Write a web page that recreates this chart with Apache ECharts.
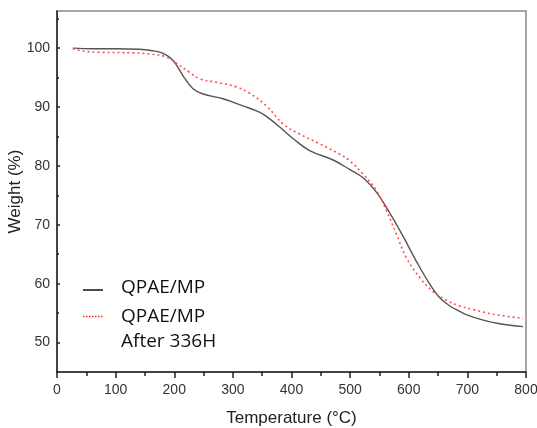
<!DOCTYPE html>
<html>
<head>
<meta charset="utf-8">
<script src="https://cdn.jsdelivr.net/npm/echarts@6/dist/echarts.min.js"></script>
<style>
html,body{margin:0;padding:0;background:#fff;}
#chart{width:537px;height:428px;}
</style>
</head>
<body>
<div id="chart"></div>
<script>
// Data
var xTicks = [0, 100, 200, 300, 400, 500, 600, 700, 800];
var yMajorTicks = [50, 60, 70, 80, 90, 100];
var yMinorTicks = [55, 65, 75, 85, 95, 105];

var qpaeTemp   = [27, 60, 100, 140, 160, 181, 198, 215, 232, 249, 283, 317, 346, 360, 380, 403, 431, 471, 499, 522, 545, 567, 590, 613, 636, 653, 670, 687, 699, 727, 755, 795];
var qpaeWeight = [100, 99.9, 99.9, 99.8, 99.6, 99.1, 97.9, 95.3, 93.1, 92.2, 91.4, 90.2, 89.1, 88.2, 86.6, 84.6, 82.6, 81.0, 79.4, 78.0, 75.5, 72.1, 68.1, 63.8, 59.9, 57.6, 56.2, 55.3, 54.7, 53.8, 53.2, 52.7];

var agedTemp   = [27, 44, 72, 130, 158, 187, 204, 226, 243, 272, 306, 329, 357, 386, 414, 449, 482, 499, 522, 545, 562, 579, 596, 619, 641, 664, 687, 710, 744, 795];
var agedWeight = [99.9, 99.5, 99.3, 99.2, 99.0, 98.5, 97.4, 95.9, 94.8, 94.2, 93.4, 92.3, 90.2, 87.1, 85.4, 83.7, 82.0, 80.9, 78.6, 75.8, 72.4, 68.4, 64.4, 61.0, 58.7, 57.2, 56.2, 55.6, 54.8, 54.1];

function pairs(xs, ys) {
  var out = [];
  for (var i = 0; i < xs.length; i++) out.push([xs[i], ys[i]]);
  return out;
}

var chart = echarts.init(document.getElementById('chart'), null, {renderer: 'canvas'});
var tickFont = {fontFamily: 'Liberation Sans, Arial, sans-serif', fontSize: 14, color: '#333'};
var legendFont = '19px "Open Sans", "Noto Sans", sans-serif';

chart.setOption({
  animation: false,
  backgroundColor: '#fff',
  grid: {
    left: 57, right: 11, top: 11, bottom: 56,
    containLabel: false, outerBoundsMode: 'none',
    show: true, borderColor: '#888', borderWidth: 1.5, backgroundColor: 'transparent'
  },
  xAxis: {
    type: 'value', min: 0, max: 800, interval: 100,
    name: 'Temperature (\u00B0C)', nameLocation: 'middle', nameGap: 38, nameMoveOverlap: false,
    nameTextStyle: {fontFamily: 'Liberation Sans, Arial, sans-serif', fontSize: 17, color: '#222'},
    axisLine: {show: true, lineStyle: {color: '#222', width: 1.5}},
    axisTick: {show: true, length: 6, lineStyle: {color: '#222', width: 1.5}},
    minorTick: {show: true, splitNumber: 2, length: 4, lineStyle: {color: '#222', width: 1.5}},
    axisLabel: Object.assign({margin: 11}, tickFont),
    splitLine: {show: false}
  },
  yAxis: [{
    type: 'value', min: 45, max: 106.3,
    name: 'Weight (%)', nameLocation: 'middle', nameGap: 33, nameMoveOverlap: false,
    nameTextStyle: {fontFamily: 'Liberation Sans, Arial, sans-serif', fontSize: 17, color: '#222'},
    axisLine: {show: true, lineStyle: {color: '#222', width: 1.5}},
    axisTick: {show: true, inside: true, length: 3, customValues: yMajorTicks, lineStyle: {color: '#222', width: 1.5}},
    axisLabel: Object.assign({margin: 7, customValues: yMajorTicks}, tickFont),
    splitLine: {show: false}
  }, {
    type: 'value', min: 45, max: 106.3, position: 'left',
    axisLine: {show: false},
    axisTick: {show: true, inside: true, length: 2, customValues: yMinorTicks, lineStyle: {color: '#222', width: 1.5}},
    axisLabel: {show: false},
    splitLine: {show: false}
  }],
  series: [{
    name: 'QPAE/MP', type: 'line', yAxisIndex: 0,
    data: pairs(qpaeTemp, qpaeWeight),
    showSymbol: false, smooth: 0.4,
    lineStyle: {color: '#555', width: 1.4}
  }, {
    name: 'QPAE/MP After 336H', type: 'line', yAxisIndex: 0,
    data: pairs(agedTemp, agedWeight),
    showSymbol: false, smooth: 0.4,
    lineStyle: {color: '#ff4a4a', width: 1.6, type: [2, 3]}
  }],
  graphic: [
    {type: 'line', shape: {x1: 83, y1: 290, x2: 103, y2: 290}, style: {stroke: '#111', lineWidth: 1.5}},
    {type: 'line', shape: {x1: 83, y1: 316.5, x2: 103, y2: 316.5}, style: {stroke: '#ff2020', lineWidth: 1.5, lineDash: [1.5, 1.5]}},
    {type: 'text', left: 121, top: 278, style: {text: 'QPAE/MP', font: legendFont, fill: '#111'}},
    {type: 'text', left: 121, top: 304, style: {text: 'QPAE/MP\nAfter 336H', font: legendFont, fill: '#111', lineHeight: 25}}
  ]
});
</script>
</body>
</html>
